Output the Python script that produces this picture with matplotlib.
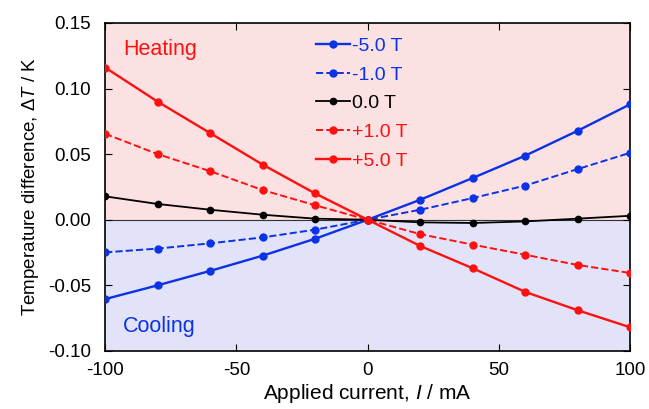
import numpy as np
from matplotlib import pyplot as plt

plt.rcParams['font.family'] = ['Liberation Sans', 'DejaVu Sans']
plt.rcParams['mathtext.fontset'] = 'custom'
plt.rcParams['mathtext.it'] = 'Liberation Sans:italic'
plt.rcParams['mathtext.rm'] = 'Liberation Sans'
plt.rcParams['axes.unicode_minus'] = False

current = [-100, -80, -60, -40, -20, 0, 20, 40, 60, 80, 100]

dt_m5 = [-0.0605, -0.050, -0.039, -0.0274, -0.0145, 0.0, 0.0152, 0.0318, 0.0488, 0.0678, 0.088]
dt_m1 = [-0.0249, -0.022, -0.018, -0.0135, -0.0076, 0.0, 0.0076, 0.0165, 0.026, 0.0386, 0.051]
dt_0 = [0.0178, 0.012, 0.0076, 0.0038, 0.0008, 0.0, -0.002, -0.0025, -0.0013, 0.0008, 0.003]
dt_p1 = [0.0655, 0.050, 0.037, 0.0226, 0.011, 0.0, -0.011, -0.019, -0.0267, -0.0345, -0.0406]
dt_p5 = [0.116, 0.090, 0.066, 0.042, 0.020, 0.0, -0.020, -0.037, -0.055, -0.069, -0.082]

labels = ["-5.0 T", "-1.0 T", "0.0 T", "+1.0 T", "+5.0 T"]
yticks = [-0.10, -0.05, 0.00, 0.05, 0.10, 0.15]

blue = '#0a32e6'
red = '#ff1010'

fig = plt.figure(figsize=(6.49, 4.09), dpi=100)
ax = fig.add_axes([0.162, 0.142, 0.809, 0.802])

# heating / cooling regions
ax.axhspan(0, 0.15, color='#fbe1e1', zorder=0)
ax.axhspan(-0.10, 0, color='#e2e2f8', zorder=0)
ax.axhline(0, color='#333333', linewidth=0.8, zorder=1)

series = [dt_m5, dt_m1, dt_0, dt_p1, dt_p5]
colors = [blue, blue, 'black', red, red]
styles = ['-', '--', '-', '--', '-']
widths = [1.7, 1.4, 1.3, 1.4, 1.7]
sizes = [5, 5, 4.5, 5, 5]
for y, c, ls, lw, ms, lab in zip(series, colors, styles, widths, sizes, labels):
    ax.plot(current, y, color=c, linestyle=ls, linewidth=lw, marker='o',
            markersize=ms, label=lab, zorder=3)

ax.set_xlim(-100, 100)
ax.set_ylim(-0.10, 0.15)
ax.set_xticks([-100, -50, 0, 50, 100])
ax.set_yticks(yticks)
ax.set_yticklabels([f"{v:.2f}" for v in yticks])
ax.tick_params(direction='in', top=True, right=True, labelsize=13.5,
               length=5, width=0.8)
ax.tick_params(axis='y', pad=10)
ax.tick_params(axis='x', pad=8)
for s in ax.spines.values():
    s.set_linewidth(1.2)

ax.set_xlabel("Applied current, $I$ / mA", fontsize=15, labelpad=2)
ax.set_ylabel("Temperature difference, $\\Delta T$ / K", fontsize=13.5, labelpad=5)

ax.text(0.034, 0.918, "Heating", color=red, fontsize=15.5, transform=ax.transAxes,
        va='center', ha='left')
ax.text(0.034, 0.073, "Cooling", color=blue, fontsize=15.5, transform=ax.transAxes,
        va='center', ha='left')

leg = ax.legend(loc='upper left', bbox_to_anchor=(0.387, 0.98), frameon=False,
                fontsize=14, handlelength=1.75, handletextpad=0.1,
                labelspacing=0.57, borderaxespad=0)
for text, c in zip(leg.get_texts(), colors):
    text.set_color(c)

fig.savefig("out.png", dpi=100)
